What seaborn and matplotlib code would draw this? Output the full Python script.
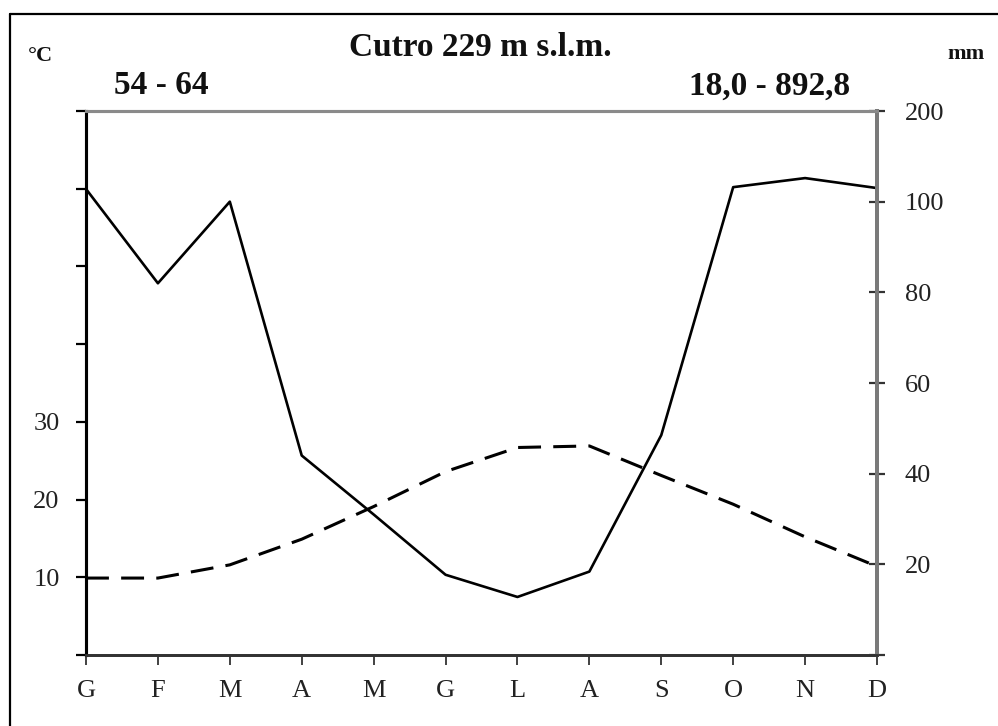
import numpy as np
import pandas as pd
import seaborn as sns
import matplotlib.pyplot as plt
from matplotlib.lines import Line2D

# dati climatici Cutro (mesi in italiano)
mesi = ['G', 'F', 'M', 'A', 'M', 'G', 'L', 'A', 'S', 'O', 'N', 'D']
temperatura = [9.9, 9.9, 11.6, 14.9, 19.1, 23.6, 26.7, 26.9, 23.1, 19.4, 15.2, 11.4]
precipitazioni = [114, 82, 100, 44, 31, 17.7, 12.8, 18.4, 48.5, 116, 126, 115]

temp_ticks = [0, 10, 20, 30, 40, 50, 60, 70]
temp_labels = ['', '10', '20', '30', '', '', '', '']
prec_ticks = [0, 20, 40, 60, 80, 100, 200]
prec_labels = ['', '20', '40', '60', '80', '100', '200']

df = pd.DataFrame({'mese': np.arange(len(mesi)), 'temp': temperatura, 'prec': precipitazioni})

sns.set_theme(style="white")
plt.rcParams['font.family'] = ['Liberation Serif', 'DejaVu Serif']

fig = plt.figure(figsize=(9.98, 7.26), dpi=100)
ax = fig.add_axes([86 / 998, 1 - 655 / 726, (877 - 86) / 998, (655 - 111) / 726])
ax2 = ax.twinx()

# temperatura (tratteggiata, asse sinistro)
sns.lineplot(data=df, x='mese', y='temp', ax=ax, color='black', linewidth=2.2)
ax.lines[0].set_dashes((7.5, 4))

# precipitazioni (continua, asse destro con scala compressa sopra 100 mm)
def fwd(p):
    p = np.asarray(p, dtype=float)
    return np.where(p <= 100, p, 100 + (p - 100) / 5)

def inv(v):
    v = np.asarray(v, dtype=float)
    return np.where(v <= 100, v, 100 + (v - 100) * 5)

ax2.set_yscale('function', functions=(fwd, inv))
sns.lineplot(data=df, x='mese', y='prec', ax=ax2, color='black', linewidth=1.9)

ax.set_xlim(0, 11)
ax.set_ylim(0, 70)
ax2.set_ylim(0, 200)

ax.set_xticks(df['mese'])
ax.set_xticklabels(mesi)
ax.set_yticks(temp_ticks)
ax.set_yticklabels(temp_labels)
ax2.set_yticks(prec_ticks)
ax2.set_yticklabels(prec_labels)
ax2.minorticks_off()

ax.set_xlabel('')
ax.set_ylabel('')
ax2.set_ylabel('')

ax.tick_params(axis='y', direction='out', length=7, width=1.6, color='black',
               labelsize=19, pad=12, left=True, labelcolor='#222222')
ax.tick_params(axis='x', direction='out', length=7, width=1.3, color='#333333',
               labelsize=19, pad=11, bottom=True, labelcolor='#222222')
ax2.tick_params(axis='y', direction='inout', length=12, width=1.6, color='#333333',
                labelsize=19, pad=14, right=True, labelcolor='#222222')

for a in (ax, ax2):
    a.spines['left'].set_color('black')
    a.spines['left'].set_linewidth(2.2)
    a.spines['bottom'].set_color('#333333')
    a.spines['bottom'].set_linewidth(2.0)
    a.spines['top'].set_color('#8a8a8a')
    a.spines['top'].set_linewidth(2.2)
    a.spines['right'].set_color('#7a7a7a')
    a.spines['right'].set_linewidth(2.8)
    a.grid(False)

# testi
fig.text(480 / 998, 1 - 47 / 726, 'Cutro 229 m s.l.m.', ha='center', va='center',
         fontsize=24, fontweight='bold', color='#111111')
fig.text(161 / 998, 1 - 85 / 726, '54 - 64', ha='center', va='center',
         fontsize=24, fontweight='bold', color='#111111')
fig.text(770 / 998, 1 - 86 / 726, '18,0 - 892,8', ha='center', va='center',
         fontsize=24, fontweight='bold', color='#111111')
fig.text(40 / 998, 1 - 56 / 726, '°C', ha='center', va='center',
         fontsize=16, fontweight='bold', color='#111111')
fig.text(966 / 998, 1 - 54 / 726, 'mm', ha='center', va='center',
         fontsize=16, fontweight='bold', color='#111111')

# cornice
fig.add_artist(Line2D([10 / 998, 10 / 998], [0, 1 - 14 / 726], color='black', lw=1.6))
fig.add_artist(Line2D([10 / 998, 1], [1 - 14 / 726, 1 - 14 / 726], color='black', lw=1.6))

fig.savefig('out.png', dpi=100, facecolor='white')
